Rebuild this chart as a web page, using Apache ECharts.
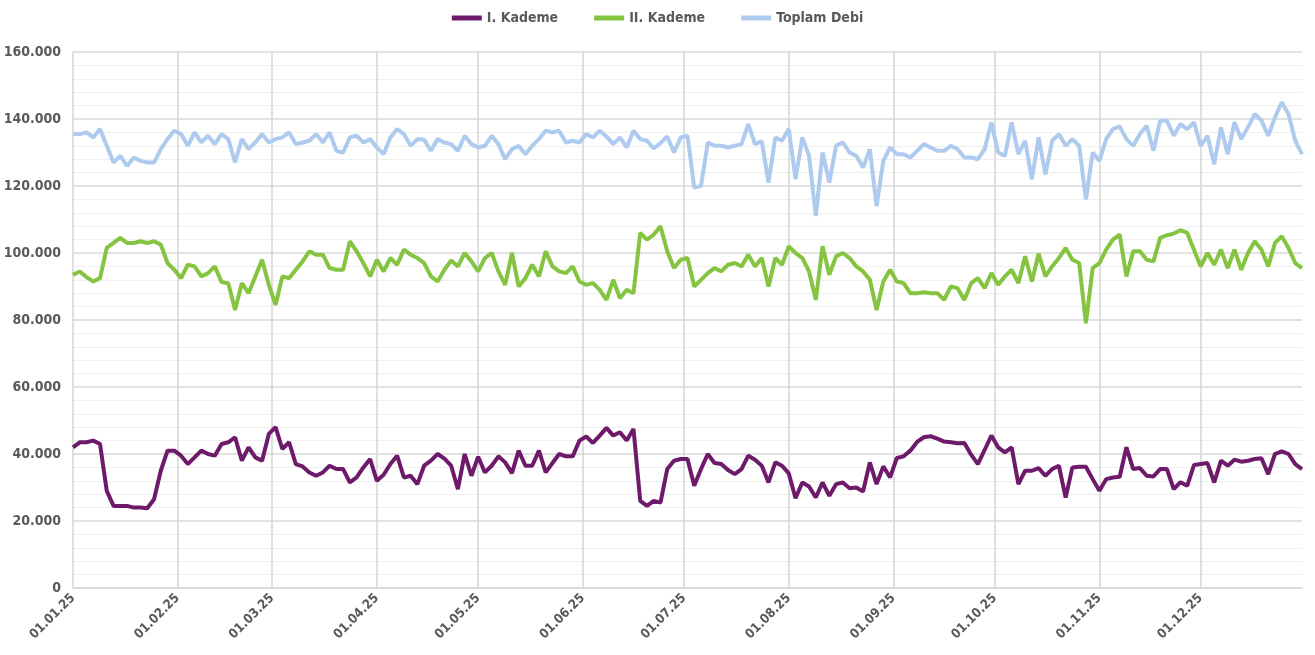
<!DOCTYPE html>
<html>
<head>
<meta charset="utf-8">
<script src="https://cdn.jsdelivr.net/npm/echarts@6/dist/echarts.min.js"></script>
<style>
  html, body { margin: 0; padding: 0; background: #ffffff; }
  #chart { width: 1315px; height: 655px; }
</style>
</head>
<body>
<div id="chart"></div>
<script>
const SAMPLE_STEP_DAYS = 2;

const seriesNames = ['I. Kademe', 'II. Kademe', 'Toplam Debi'];

const toplamDebi = [
  135.5, 135.5, 136, 134.5, 137, 132, 127, 129, 126, 128.5, 127.5, 127, 127, 131, 134, 136.5, 135.5, 132, 136, 133, 135, 132.5, 135.5, 134, 127, 134, 131, 133, 135.5, 133, 134, 134.5, 136, 132.5, 133, 133.5, 135.5, 133, 136, 130.5, 130, 134.5, 135, 133, 134, 131.5,
  129.5, 134.5, 137, 135.5, 132, 134, 133.8, 130.5, 134, 133, 132.5, 130.5, 135, 132.5, 131.5, 132, 135, 132.5, 128, 131, 132, 129.5, 132, 134, 136.5, 136, 136.5, 133, 133.5, 133, 135.5, 134.5, 136.5, 134.8, 132.5, 134.5, 131.5, 136.5, 134, 133.5, 131.2, 132.8, 134.8, 130, 134.5, 135,
  119.5, 120, 133, 132, 132, 131.5, 132, 132.5, 138.5, 132.5, 133.3, 121, 134.5, 133.5, 137, 122, 134.5, 129, 111, 130, 121, 132, 133, 130, 129, 125.5, 131, 114, 127.5, 131.5, 129.5, 129.5, 128.5, 130.5, 132.5, 131.5, 130.5, 130.5, 132, 131, 128.5, 128.5, 128, 131, 139, 130,
  129, 139, 129.5, 133.5, 122, 134.5, 123.5, 133.5, 135.5, 132, 134, 132, 116, 130, 127.5, 134, 137, 137.8, 134, 132, 135.5, 138, 130.5, 139.5, 139.5, 135, 138.5, 137, 139, 132, 135, 126.5, 137.5, 129.5, 139, 134, 137.5, 141.5, 139.5, 135, 140.5, 145, 141.5, 133.5, 129.5
];

const kademe2 = [
  93.5, 94.5, 92.8, 91.5, 92.5, 101.5, 103, 104.5, 103, 103, 103.5, 103, 103.5, 102.5, 97, 95, 92.5, 96.5, 96, 93, 94, 96, 91.3, 91, 83, 91, 88, 93, 98, 90.5, 84.5, 93, 92.5, 95, 97.5, 100.5, 99.5, 99.5, 95.5, 95, 95, 103.5, 100.5, 97, 93, 98,
  94.5, 98.5, 96.5, 101, 99.5, 98.5, 97, 93, 91.5, 95, 97.8, 96, 100, 97.5, 94.5, 98.5, 100, 94.5, 90.5, 100, 90, 92.5, 96.5, 93, 100.5, 96, 94.5, 94, 96, 91.5, 90.5, 91, 89, 86, 92, 86.5, 89, 88, 106, 104, 105.5, 108, 100.5, 95.5, 98, 98.5,
  90, 92, 94, 95.5, 94.5, 96.5, 97, 96, 99.5, 96, 98.5, 90, 98.5, 96.5, 102, 100, 98.5, 94.5, 86, 102, 93.5, 99, 100, 98.5, 96, 94.5, 92, 83, 91.5, 95, 91.5, 91, 88, 88, 88.3, 88, 88, 86, 90, 89.5, 86, 91, 92.5, 89.5, 94, 90.5,
  93, 95, 91, 99, 91.5, 99.8, 93, 96, 98.5, 101.5, 98, 97, 79, 95.5, 97, 101, 104, 105.5, 93, 100.5, 100.5, 98, 97.5, 104.5, 105.3, 105.8, 106.8, 106, 101, 96, 100, 96.5, 101, 95.5, 101, 95, 100, 103.5, 101, 96, 103, 105, 101.5, 97, 95.5
];

const kademe1 = [
  42, 43.5, 43.5, 44, 43, 29, 24.5, 24.5, 24.5, 24, 24, 23.8, 26.5, 35, 41, 41, 39.5, 37, 39, 41, 40, 39.5, 43, 43.5, 45, 38, 42, 39, 38, 46, 48, 41.5, 43.5, 37, 36.3, 34.5, 33.5, 34.5, 36.5, 35.5, 35.5, 31.5, 33, 36, 38.5, 32,
  33.8, 37, 39.5, 33, 33.5, 31, 36.5, 38, 40, 38.6, 36.5, 29.5, 40, 33.5, 39.2, 34.5, 36.5, 39.3, 37.5, 34.3, 41, 36.5, 36.5, 41, 34.5, 37.3, 40, 39.3, 39.3, 44, 45.2, 43.3, 45.5, 47.8, 45.5, 46.5, 44, 47.5, 26, 24.5, 26, 25.5, 35.5, 38, 38.5, 38.5,
  30.5, 35.5, 40, 37.3, 37, 35.2, 34, 35.5, 39.5, 38.3, 36.5, 31.5, 37.5, 36.5, 34.2, 26.8, 31.5, 30.3, 27, 31.5, 27.5, 31, 31.5, 29.8, 30, 28.8, 37.5, 31, 36.3, 33, 38.8, 39.3, 41, 43.6, 45, 45.3, 44.6, 43.7, 43.5, 43.2, 43.3, 39.8, 37, 41.2, 45.5, 42,
  40.5, 42, 31, 35, 35, 35.8, 33.5, 35.5, 36.5, 27, 36, 36.2, 36.2, 32.5, 29, 32.5, 33, 33.2, 42, 35.5, 35.8, 33.5, 33.3, 35.5, 35.5, 29.5, 31.6, 30.5, 36.7, 37, 37.3, 31.5, 38, 36.5, 38.3, 37.7, 38, 38.5, 38.7, 34, 40, 40.8, 40, 37, 35.5
];

const yTickValues = [0, 20, 40, 60, 80, 100, 120, 140, 160]; // thousands

// Day categories for 2025 (dd.mm.yy)
const dayLabels = [];
for (let d = 0; d < 365; d++) {
  const dt = new Date(Date.UTC(2025, 0, 1 + d));
  const dd = String(dt.getUTCDate()).padStart(2, '0');
  const mm = String(dt.getUTCMonth() + 1).padStart(2, '0');
  dayLabels.push(dd + '.' + mm + '.25');
}

function toPairs(arr) {
  return arr.map((v, i) => [dayLabels[i * SAMPLE_STEP_DAYS], v]);
}

const isMonthStart = (idx, val) => typeof val === 'string' ? val.indexOf('01.') === 0 : dayLabels[idx].indexOf('01.') === 0;

const FONT = "'Liberation Sans Narrow', 'DejaVu Sans Condensed', 'Roboto', sans-serif";
const C1 = '#6d1a6b', C2 = '#84c441', C3 = '#aecbef';

const chart = echarts.init(document.getElementById('chart'), null, { renderer: 'canvas' });

chart.setOption({
  animation: false,
  backgroundColor: '#ffffff',
  legend: {
    top: 6,
    left: 'center',
    itemWidth: 30,
    itemHeight: 5,
    itemGap: 36,
    icon: 'rect',
    data: seriesNames,
    textStyle: { color: '#595959', fontSize: 14, fontFamily: FONT, fontWeight: 'bold' }
  },
  grid: { left: 73, right: 13, top: 52, bottom: 67, containLabel: false },
  xAxis: {
    type: 'category',
    data: dayLabels,
    boundaryGap: false,
    axisLine: { show: true, lineStyle: { color: '#d9d9d9', width: 1.5 } },
    axisTick: { show: false },
    axisLabel: {
      interval: (idx, val) => isMonthStart(idx, val),
      rotate: 45,
      color: '#595959',
      fontSize: 13,
      fontFamily: FONT,
      fontWeight: 'bold',
      margin: 8
    },
    splitLine: {
      show: true,
      interval: (idx, val) => isMonthStart(idx, val),
      lineStyle: { color: '#d4d4d4', width: 1.5 }
    }
  },
  yAxis: {
    type: 'value',
    min: yTickValues[0],
    max: yTickValues[yTickValues.length - 1],
    interval: 20,
    axisLine: { show: false },
    axisTick: { show: false },
    axisLabel: {
      color: '#595959',
      fontSize: 14,
      fontFamily: FONT,
      fontWeight: 'bold',
      margin: 12,
      formatter: v => v === 0 ? '0' : v + '.000'
    },
    splitLine: { show: true, lineStyle: { color: '#d9d9d9', width: 1.5 } },
    minorTick: { show: false, splitNumber: 5 },
    minorSplitLine: { show: true, lineStyle: { color: '#efefef', width: 1 } }
  },
  series: [
    {
      name: seriesNames[2], type: 'line', data: toPairs(toplamDebi),
      symbol: 'none', itemStyle: { color: C3 }, lineStyle: { width: 4, color: C3 }, z: 2
    },
    {
      name: seriesNames[1], type: 'line', data: toPairs(kademe2),
      symbol: 'none', itemStyle: { color: C2 }, lineStyle: { width: 4, color: C2 }, z: 3
    },
    {
      name: seriesNames[0], type: 'line', data: toPairs(kademe1),
      symbol: 'none', itemStyle: { color: C1 }, lineStyle: { width: 4, color: C1 }, z: 4
    }
  ]
});
</script>
</body>
</html>
